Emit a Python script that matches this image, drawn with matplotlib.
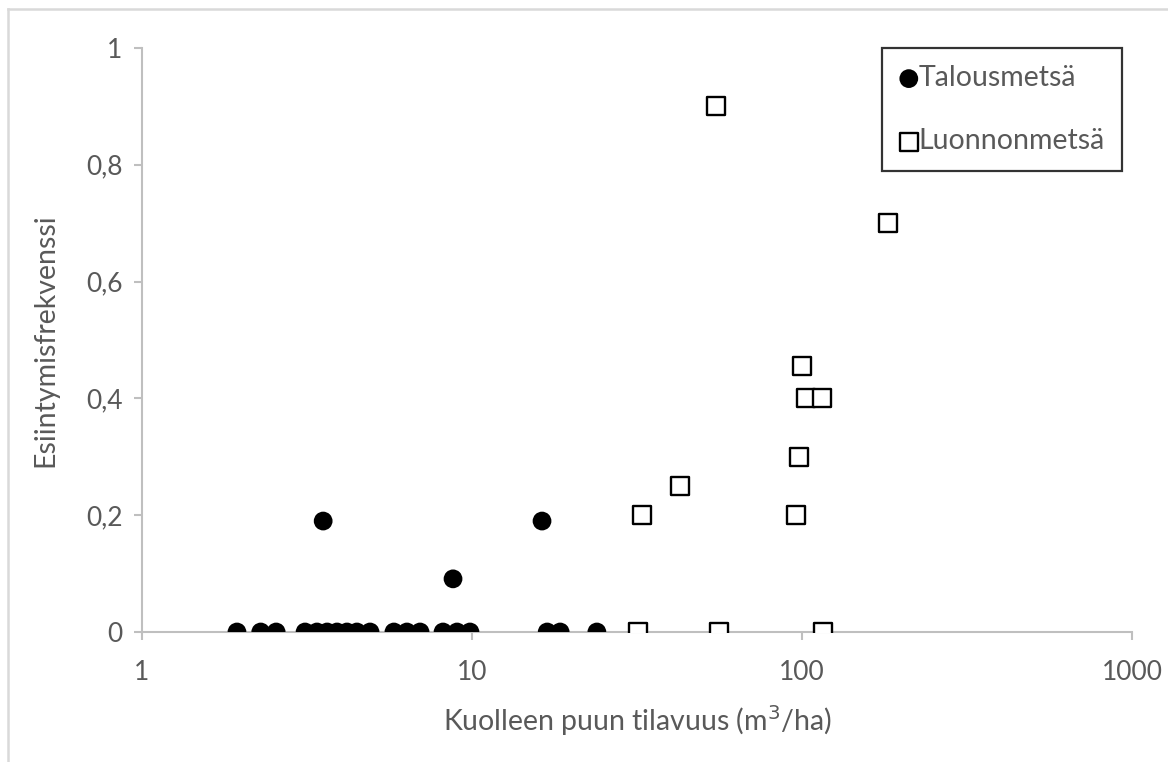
import matplotlib
matplotlib.use("Agg")
import matplotlib.pyplot as plt
from matplotlib.lines import Line2D
from matplotlib.ticker import FixedLocator, NullLocator

# Data
talous_x = [1.94, 2.29, 2.55, 3.12, 3.39, 3.64, 3.90, 4.18, 4.48, 4.91, 5.80, 6.35, 6.96,
            8.17, 9.01, 9.86, 16.9, 18.5, 23.9, 3.54, 16.3, 8.76]
talous_y = [0, 0, 0, 0, 0, 0, 0, 0, 0, 0, 0, 0, 0,
            0, 0, 0, 0, 0, 0, 0.19, 0.19, 0.091]
luonto_x = [54.9, 182, 99.8, 103, 114.7, 97.9, 95.7, 42.7, 32.7, 31.8, 55.9, 115.6]
luonto_y = [0.9, 0.7, 0.455, 0.4, 0.4, 0.3, 0.2, 0.25, 0.2, 0, 0, 0]
x_ticks = [1, 10, 100, 1000]
x_labels = ["1", "10", "100", "1000"]
y_ticks = [0, 0.2, 0.4, 0.6, 0.8, 1.0]
y_labels = ["0", "0,2", "0,4", "0,6", "0,8", "1"]

plt.rcParams['font.family'] = ['Lato', 'DejaVu Sans']
TXT = '#595959'
AX = '#bfbfbf'

W, H = 1168, 762
fig = plt.figure(figsize=(W / 100, H / 100), dpi=100)
ax = fig.add_axes([142 / W, 1 - 632 / H, 990 / W, 584 / H])

ax.scatter(talous_x, talous_y, s=13.5 ** 2, marker='o', color='black', zorder=3,
           label='Talousmetsä', edgecolors='none')
ax.scatter(luonto_x, luonto_y, s=12.3 ** 2, marker='s', facecolors='white',
           edgecolors='black', linewidths=1.7, zorder=4, label='Luonnonmetsä')

ax.set_xscale('log')
ax.set_xlim(1, 1000)
ax.set_ylim(0, 1)
ax.xaxis.set_major_locator(FixedLocator(x_ticks))
ax.xaxis.set_minor_locator(NullLocator())
ax.set_xticklabels(x_labels)
ax.set_yticks(y_ticks)
ax.set_yticklabels(y_labels)

for s in ['top', 'right']:
    ax.spines[s].set_visible(False)
for s in ['left', 'bottom']:
    ax.spines[s].set_color(AX)
    ax.spines[s].set_linewidth(1.5)
ax.tick_params(axis='both', colors=AX, length=6, width=1.5, labelcolor=TXT,
               labelsize=19, pad=8)
ax.tick_params(axis='x', pad=14)

ax.set_xlabel('Kuolleen puun tilavuus (m$^3$/ha)', fontsize=20.5, color=TXT, labelpad=13)
ax.set_ylabel('Esiintymisfrekvenssi', fontsize=20.5, color=TXT, labelpad=20)

leg = ax.legend(loc='upper right', bbox_to_anchor=(0.99, 1.0), borderaxespad=0,
                fontsize=20.5, frameon=True, fancybox=False, labelspacing=1.3,
                handletextpad=0.0, handlelength=0.7, borderpad=0.6,
                markerscale=1.0)
leg.get_frame().set_edgecolor('black')
leg.get_frame().set_linewidth(1.6)
for t in leg.get_texts():
    t.set_color(TXT)

# outer chart border (light gray)
fig.add_artist(Line2D([8 / W, 8 / W], [0, 1 - 9 / H], color='#d9d9d9', lw=1.8,
                      transform=fig.transFigure))
fig.add_artist(Line2D([8 / W, 1], [1 - 9 / H, 1 - 9 / H], color='#d9d9d9', lw=1.8,
                      transform=fig.transFigure))

fig.savefig('out.png', dpi=100)
